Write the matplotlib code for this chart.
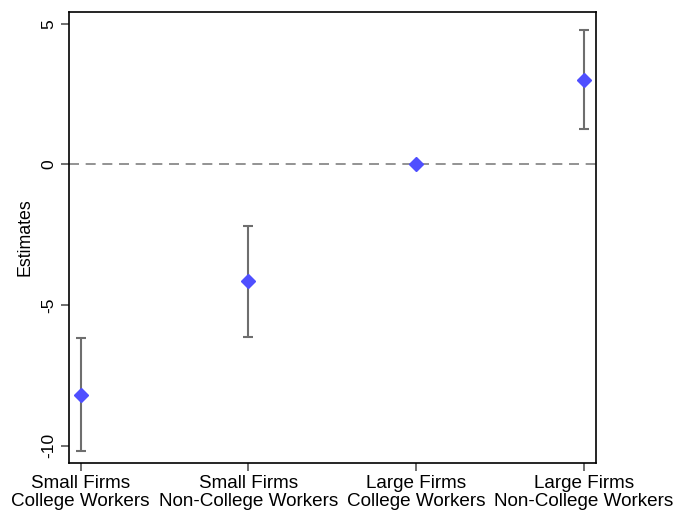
import numpy as np
import matplotlib.pyplot as plt

plt.rcParams['font.family'] = ['Liberation Sans', 'DejaVu Sans']

labels = ["Small Firms\nCollege Workers", "Small Firms\nNon-College Workers",
          "Large Firms\nCollege Workers", "Large Firms\nNon-College Workers"]
est = [-8.2, -4.15, 0.0, 3.0]
ci_lo = [-10.2, -6.13, 0.0, 1.25]
ci_hi = [-6.16, -2.18, 0.0, 4.76]

x = np.arange(1, len(est) + 1)
est = np.array(est)
yerr = [est - np.array(ci_lo), np.array(ci_hi) - est]

fig = plt.figure(figsize=(6.77, 5.12), dpi=100)
ax = fig.add_axes([0.1019, 0.0963, 0.778, 0.8793])

ax.axhline(0, color='#808080', lw=1.2, ls=(0, (6, 4)), zorder=1)
ax.errorbar(x, est, yerr=yerr, fmt='none', ecolor='#6e6e6e', elinewidth=1.5,
            capsize=3.6, capthick=1.5, zorder=2)
ax.plot(x, est, 'D', color='#4f4fff', ms=7.5, mec='#4f4fff', zorder=3)

ax.set_xlim(0.93, 4.07)
ax.set_ylim(-10.61, 5.40)
ax.set_xticks(x)
ax.set_xticklabels(labels, fontsize=13.6, linespacing=1.05)
ax.set_yticks([-10, -5, 0, 5])
ax.set_yticklabels(['-10', '-5', '0', '5'], rotation=90, va='center', fontsize=12.5)
ax.set_ylabel('Estimates', fontsize=12.8, labelpad=6)
ax.tick_params(length=6, color='#555555', width=1.2, pad=3)
for s in ax.spines.values():
    s.set_linewidth(1.2)

fig.savefig('out.png', dpi=100)
